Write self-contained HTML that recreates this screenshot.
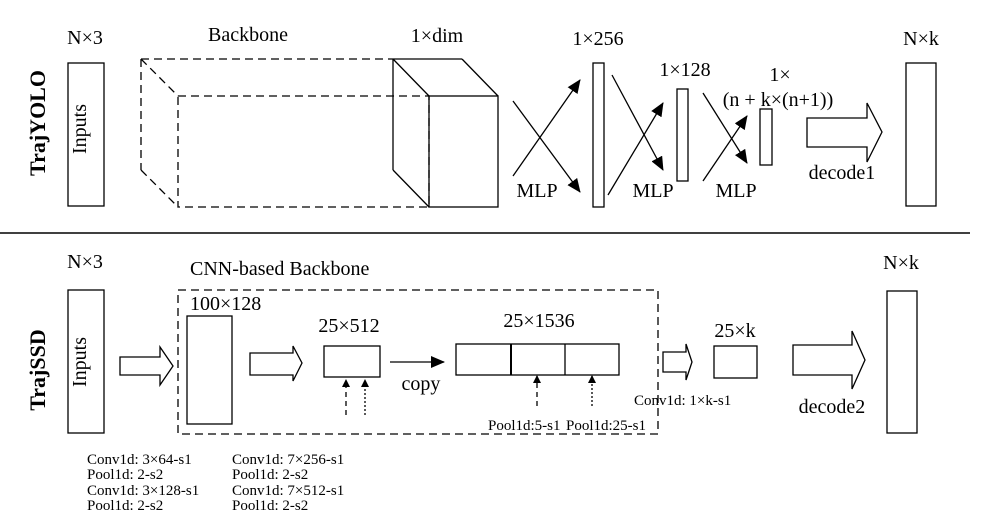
<!DOCTYPE html>
<html><head><meta charset="utf-8"><style>html,body{margin:0;padding:0;background:#fff}svg{display:block}text{font-family:"Liberation Serif",serif;fill:#000}</style></head><body>
<svg width="984" height="523" viewBox="0 0 984 523" xmlns="http://www.w3.org/2000/svg">
<defs><marker id="ah" markerWidth="8" markerHeight="8" refX="7" refY="4" orient="auto" markerUnits="userSpaceOnUse"><path d="M0,0 L8,4 L0,8 z" fill="#000"/></marker>
<marker id="ah2" markerWidth="14" markerHeight="12" refX="13" refY="6" orient="auto" markerUnits="userSpaceOnUse"><path d="M0,0 L14,6 L0,12 z" fill="#000"/></marker></defs>
<g fill="none" stroke="#000" stroke-width="1.3">
<rect x="68" y="63" width="36" height="143"/>
<g stroke-dasharray="8,5"><rect x="178" y="96" width="251" height="111"/><line x1="141" y1="59" x2="393" y2="59"/><line x1="141" y1="59" x2="141" y2="170"/><line x1="141" y1="59" x2="178" y2="96"/><line x1="141" y1="170" x2="178" y2="207"/></g>
<rect x="429" y="96" width="69" height="111"/><line x1="393" y1="59" x2="462" y2="59"/><line x1="393" y1="59" x2="393" y2="170"/><line x1="393" y1="59" x2="429" y2="96"/><line x1="462" y1="59" x2="498" y2="96"/><line x1="393" y1="170" x2="429" y2="207"/>
<line x1="513" y1="176" x2="580" y2="80" marker-end="url(#ah2)"/><line x1="513" y1="101" x2="580" y2="192" marker-end="url(#ah2)"/>
<rect x="593" y="63" width="11" height="144"/>
<line x1="612" y1="75" x2="663" y2="170" marker-end="url(#ah2)"/><line x1="608" y1="195" x2="663" y2="103" marker-end="url(#ah2)"/>
<rect x="677" y="89" width="11" height="92"/>
<line x1="703" y1="93" x2="747" y2="163" marker-end="url(#ah2)"/><line x1="703" y1="181" x2="747" y2="116" marker-end="url(#ah2)"/>
<rect x="760" y="109" width="12" height="56"/>
<path d="M807,118 H867 V103 L882,132 L867,162 V147 H807 Z"/>
<rect x="906" y="63" width="30" height="143"/>
<line x1="0" y1="233" x2="970" y2="233" stroke-width="1.6"/>
<rect x="68" y="290" width="36" height="143"/>
<rect x="178" y="290" width="480" height="144" stroke-dasharray="8,5"/>
<path d="M120,357 H160 V347 L173,366 L160,385 V375 H120 Z"/>
<rect x="187" y="316" width="45" height="108"/>
<path d="M250,353 H293 V346 L302,363 L293,381 V375 H250 Z"/>
<rect x="324" y="346" width="56" height="31"/>
<line x1="346" y1="415" x2="346" y2="380" stroke-dasharray="5,4" marker-end="url(#ah)"/>
<line x1="365" y1="415" x2="365" y2="380" stroke-dasharray="2,2" marker-end="url(#ah)"/>
<line x1="390" y1="362" x2="444" y2="362" marker-end="url(#ah2)"/>
<rect x="456" y="344" width="163" height="31"/><line x1="511" y1="344" x2="511" y2="375" stroke-width="2"/><line x1="565" y1="344" x2="565" y2="375"/>
<line x1="537" y1="406" x2="537" y2="376" stroke-dasharray="5,4" marker-end="url(#ah)"/>
<line x1="592" y1="406" x2="592" y2="376" stroke-dasharray="2,2" marker-end="url(#ah)"/>
<path d="M663,352 H686 V344 L692,362 L686,380 V372 H663 Z"/>
<rect x="714" y="346" width="43" height="32"/>
<path d="M793,345 H852 V331 L865,360 L852,389 V375 H793 Z"/>
<rect x="887" y="291" width="30" height="142"/>
</g>
<g font-size="20">
<text x="85" y="44" text-anchor="middle">N×3</text>
<text x="248" y="41" text-anchor="middle">Backbone</text>
<text x="437" y="42" text-anchor="middle">1×dim</text>
<text x="598" y="45" text-anchor="middle">1×256</text>
<text x="685" y="76" text-anchor="middle">1×128</text>
<text x="780" y="81" text-anchor="middle">1×</text>
<text x="778" y="106" text-anchor="middle">(n + k×(n+1))</text>
<text x="537" y="197" text-anchor="middle">MLP</text>
<text x="653" y="197" text-anchor="middle">MLP</text>
<text x="736" y="197" text-anchor="middle">MLP</text>
<text x="842" y="179" text-anchor="middle">decode1</text>
<text x="921" y="45" text-anchor="middle">N×k</text>
<text x="86" y="129" text-anchor="middle" transform="rotate(-90 86 129)">Inputs</text>
<text x="45" y="123" text-anchor="middle" transform="rotate(-90 45 123)" font-weight="bold" font-size="22">TrajYOLO</text>
<text x="85" y="268" text-anchor="middle">N×3</text>
<text x="190" y="275">CNN-based Backbone</text>
<text x="190" y="310">100×128</text>
<text x="349" y="332" text-anchor="middle">25×512</text>
<text x="539" y="327" text-anchor="middle">25×1536</text>
<text x="421" y="390" text-anchor="middle">copy</text>
<text x="735" y="337" text-anchor="middle">25×k</text>
<text x="832" y="413" text-anchor="middle">decode2</text>
<text x="901" y="269" text-anchor="middle">N×k</text>
<text x="86" y="362" text-anchor="middle" transform="rotate(-90 86 362)">Inputs</text>
<text x="45" y="370" text-anchor="middle" transform="rotate(-90 45 370)" font-weight="bold" font-size="22">TrajSSD</text>
</g>
<g font-size="15">
<text x="488" y="430">Pool1d:5-s1</text>
<text x="566" y="430">Pool1d:25-s1</text>
<text x="634" y="405">Conv1d: 1×k-s1</text>
<text x="87" y="464">Conv1d: 3×64-s1</text>
<text x="87" y="479">Pool1d: 2-s2</text>
<text x="87" y="495">Conv1d: 3×128-s1</text>
<text x="87" y="510">Pool1d: 2-s2</text>
<text x="232" y="464">Conv1d: 7×256-s1</text>
<text x="232" y="479">Pool1d: 2-s2</text>
<text x="232" y="495">Conv1d: 7×512-s1</text>
<text x="232" y="510">Pool1d: 2-s2</text>
</g>
</svg>
</body></html>
